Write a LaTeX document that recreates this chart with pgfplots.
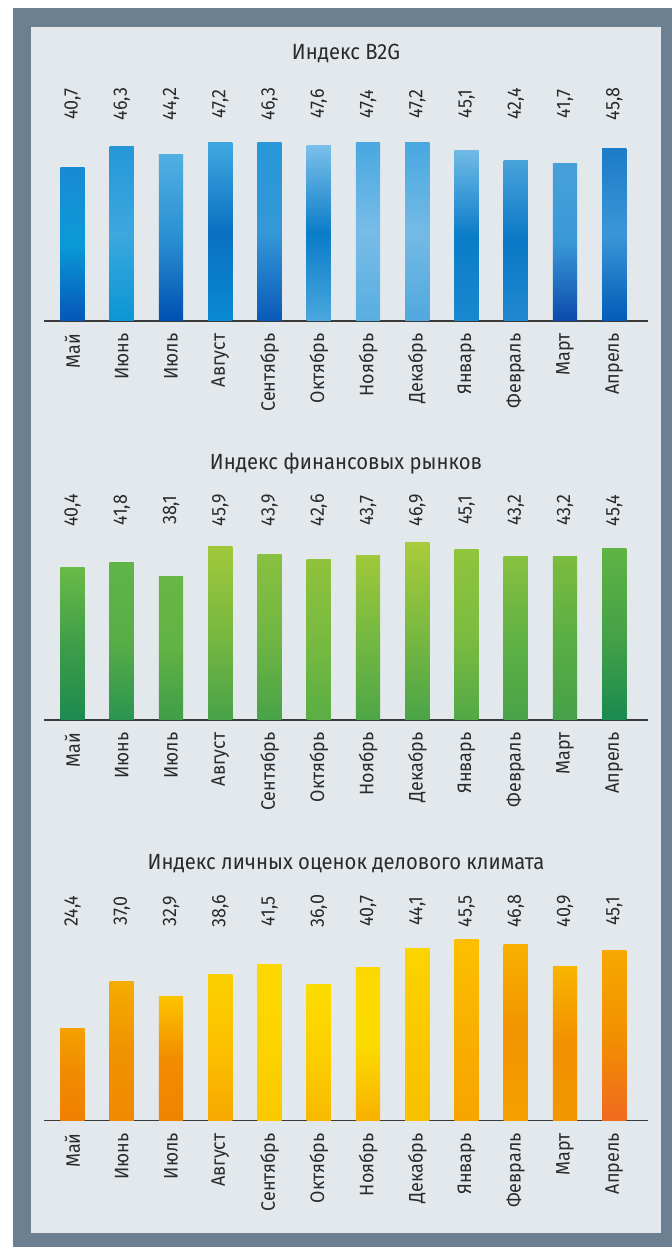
\documentclass[border=0pt]{standalone}
\usepackage{pgfplots}
\pgfplotsset{compat=1.18}
\usepackage{fontspec}
\setmainfont{Fira Sans}[FakeStretch=0.92]
\definecolor{frame}{HTML}{6C8091}
\definecolor{panel}{HTML}{E3E8EC}
\definecolor{txt}{HTML}{2A2A2A}
\definecolor{axisc}{HTML}{3A3A3A}
% blue bars (top, middle, bottom)
\definecolorset{HTML}{}{}{%
b0t,1A8AD4;b0m,0A9AD8;b0b,0556B8;%
b1t,2696D8;b1m,3CA8DE;b1b,0A96D4;%
b2t,50B0E2;b2m,2A90D2;b2b,0050B2;%
b3t,40A8E0;b3m,0A70C2;b3b,0A8AD2;%
b4t,2898D8;b4m,3498D8;b4b,0A5AB8;%
b5t,7AC0EA;b5m,0A7CC8;b5b,4AA8DE;%
b6t,48A8E0;b6m,78BCE8;b6b,58AEE0;%
b7t,48A8E0;b7m,74BAE6;b7b,50A8DE;%
b8t,70BAE6;b8m,0A7CC8;b8b,1A88D0;%
b9t,48A2DA;b9m,0A78C6;b9b,2088D0;%
b10t,48A0DA;b10m,3A98D6;b10b,0A4AAC;%
b11t,1C7CC8;b11m,3A96D6;b11b,005CB8}
% green bars
\definecolorset{HTML}{}{}{%
g0t,6ABA46;g0m,3E9E48;g0b,1E8A50;%
g1t,60B448;g1m,58AE46;g1b,2A9450;%
g2t,68B644;g2m,62B244;g2b,3E9E48;%
g3t,A0C83A;g3m,78B840;g3b,48A248;%
g4t,88C040;g4m,70B642;g4b,48A248;%
g5t,90C23C;g5m,78BA40;g5b,5AAE44;%
g6t,A0C83A;g6m,74B842;g6b,4EA646;%
g7t,A8CC3A;g7m,7AB940;g7b,4AA448;%
g8t,90C43C;g8m,7CBC40;g8b,52A846;%
g9t,88C040;g9m,60B244;g9b,48A248;%
g10t,7CBC40;g10m,5AAE44;g10b,46A048;%
g11t,60B444;g11m,46A248;g11b,1A8A50}
% orange bars
\definecolorset{HTML}{}{}{%
o0t,F5A000;o0m,F08A00;o0b,F08000;%
o1t,F5AC00;o1m,F09200;o1b,F08A00;%
o2t,FCC400;o2m,F28C00;o2b,F08400;%
o3t,FCD000;o3m,FCC000;o3b,F6A800;%
o4t,FCD800;o4m,FCD400;o4b,FCC800;%
o5t,FCDC00;o5m,FCD000;o5b,F8B800;%
o6t,FCD800;o6m,FCDC00;o6b,F8B000;%
o7t,FCD400;o7m,FCC800;o7b,F8C000;%
o8t,FCC000;o8m,F8B000;o8b,F8A400;%
o9t,F8B000;o9m,F29400;o9b,F6A000;%
o10t,F8B400;o10m,F29000;o10b,F29600;%
o11t,F6A800;o11m,F29000;o11b,F06A20}
\newcommand\lab{\fontsize{19.5bp}{22bp}\selectfont}
\newcommand\ttl{\fontsize{22bp}{25bp}\selectfont}
\pgfplotsset{
  B/.style={ybar, bar width=0.49, bar shift=0pt, draw=none,
    top color=#1t, bottom color=#1b, middle color=#1m},
  base/.style={scale only axis, width=604bp, height=188.75bp,
    xmin=-0.579, xmax=11.685, ymin=0, ymax=50, clip=false,
    axis x line*=bottom, axis y line=none,
    x axis line style={line width=1.5bp, color=axisc},
    xtick={0,...,11},
    xticklabels={Май,Июнь,Июль,Август,Сентябрь,Октябрь,Ноябрь,Декабрь,Январь,Февраль,Март,Апрель},
    major tick length=0pt,
    xticklabel style={rotate=90, anchor=east, inner sep=0pt, font=\lab, text=txt},
    xticklabel shift=12.5bp,
    ytick=\empty,
    title style={anchor=base, yshift=0pt, font=\ttl, text=txt}},
  vals/.style={draw=none, mark=none, nodes near coords, point meta=explicit symbolic,
    nodes near coords style={rotate=90, anchor=center, inner sep=0pt, font=\lab, text=txt}}
}
\begin{document}
\begin{tikzpicture}[x=1bp,y=1bp]
\fill[white] (0,0) rectangle (672,1247);
\fill[frame] (13,0) rectangle (672,1239);
\fill[panel] (31,14) rectangle (661,1220);

% Chart 1: B2G
\begin{axis}[base, at={(44bp,926bp)}, anchor=south west,
  title={Индекс B2G}, title style={at={(0.5,1.356)}}]
\addplot[B=b0] coordinates {(0,40.7)};
\addplot[B=b1] coordinates {(1,46.3)};
\addplot[B=b2] coordinates {(2,44.2)};
\addplot[B=b3] coordinates {(3,47.2)};
\addplot[B=b4] coordinates {(4,47.3)};
\addplot[B=b5] coordinates {(5,46.4)};
\addplot[B=b6] coordinates {(6,47.4)};
\addplot[B=b7] coordinates {(7,47.2)};
\addplot[B=b8] coordinates {(8,45.1)};
\addplot[B=b9] coordinates {(9,42.4)};
\addplot[B=b10] coordinates {(10,41.7)};
\addplot[B=b11] coordinates {(11,45.8)};
\addplot[vals] coordinates {(0,57.5)[40,7] (1,57.5)[46,3] (2,57.5)[44,2] (3,57.5)[47,2] (4,57.5)[46,3] (5,57.5)[47,6] (6,57.5)[47,4] (7,57.5)[47,2] (8,57.5)[45,1] (9,57.5)[42,4] (10,57.5)[41,7] (11,57.5)[45,8]};
\end{axis}

% Chart 2: financial markets
\begin{axis}[base, at={(44bp,527bp)}, anchor=south west,
  title={Индекс финансовых рынков}, title style={at={(0.5,1.294)}}]
\addplot[B=g0] coordinates {(0,40.4)};
\addplot[B=g1] coordinates {(1,41.8)};
\addplot[B=g2] coordinates {(2,38.1)};
\addplot[B=g3] coordinates {(3,45.9)};
\addplot[B=g4] coordinates {(4,43.9)};
\addplot[B=g5] coordinates {(5,42.6)};
\addplot[B=g6] coordinates {(6,43.7)};
\addplot[B=g7] coordinates {(7,46.9)};
\addplot[B=g8] coordinates {(8,45.1)};
\addplot[B=g9] coordinates {(9,43.2)};
\addplot[B=g10] coordinates {(10,43.2)};
\addplot[B=g11] coordinates {(11,45.4)};
\addplot[vals] coordinates {(0,55.55)[40,4] (1,55.55)[41,8] (2,55.55)[38,1] (3,55.55)[45,9] (4,55.55)[43,9] (5,55.55)[42,6] (6,55.55)[43,7] (7,55.55)[46,9] (8,55.55)[45,1] (9,55.55)[43,2] (10,55.55)[43,2] (11,55.55)[45,4]};
\end{axis}

% Chart 3: personal business climate
\begin{axis}[base, at={(44bp,126.3bp)}, anchor=south west,
  title={Индекс личных оценок делового климата}, title style={at={(0.5,1.298)}}]
\addplot[B=o0] coordinates {(0,24.4)};
\addplot[B=o1] coordinates {(1,37.0)};
\addplot[B=o2] coordinates {(2,32.9)};
\addplot[B=o3] coordinates {(3,38.6)};
\addplot[B=o4] coordinates {(4,41.5)};
\addplot[B=o5] coordinates {(5,36.0)};
\addplot[B=o6] coordinates {(6,40.7)};
\addplot[B=o7] coordinates {(7,45.5)};
\addplot[B=o8] coordinates {(8,48.0)};
\addplot[B=o9] coordinates {(9,46.8)};
\addplot[B=o10] coordinates {(10,40.9)};
\addplot[B=o11] coordinates {(11,45.1)};
\addplot[vals] coordinates {(0,55.5)[24,4] (1,55.5)[37,0] (2,55.5)[32,9] (3,55.5)[38,6] (4,55.5)[41,5] (5,55.5)[36,0] (6,55.5)[40,7] (7,55.5)[44,1] (8,55.5)[45,5] (9,55.5)[46,8] (10,55.5)[40,9] (11,55.5)[45,1]};
\end{axis}
\end{tikzpicture}
\end{document}
